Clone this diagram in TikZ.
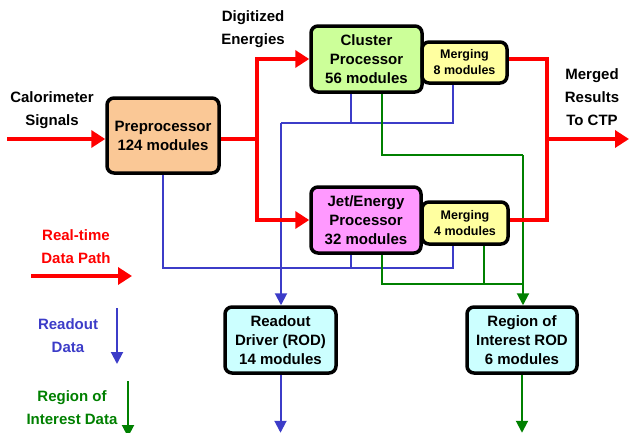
\documentclass[tikz,border=0pt]{standalone}
\usepackage{fontspec}
\setmainfont{Liberation Sans}
\usetikzlibrary{arrows.meta}
\definecolor{rdc}{RGB}{255,0,0}
\definecolor{blc}{RGB}{60,60,200}
\definecolor{grc}{RGB}{0,128,0}
\definecolor{prefill}{RGB}{250,200,150}
\definecolor{clfill}{RGB}{204,255,153}
\definecolor{mfill}{RGB}{255,255,160}
\definecolor{jefill}{RGB}{255,153,255}
\definecolor{rodfill}{RGB}{204,255,255}
\tikzset{
  box/.style={draw=black,line width=3.5pt,rounded corners=7pt,inner sep=0pt,align=center,
    font=\fontsize{15}{19}\selectfont\bfseries},
  mbox/.style={box,fill=mfill,font=\fontsize{12.5}{16}\selectfont\bfseries},
  lbl/.style={align=center,inner sep=0pt,font=\fontsize{15}{23}\selectfont\bfseries},
  rd/.style={draw=rdc,line width=4.5pt,-{Triangle[length=14pt,width=17pt]}},
  rdl/.style={draw=rdc,line width=4.5pt},
  bl/.style={draw=blc,line width=2pt},
  blarr/.style={bl,-{Triangle[length=12pt,width=12pt]}},
  gr/.style={draw=grc,line width=2pt},
  grarr/.style={gr,-{Triangle[length=12pt,width=12pt]}},
}
\begin{document}
\begin{tikzpicture}[x=1pt,y=-1pt]
\useasboundingbox (0,0) rectangle (629,432);
% boxes
\node[box,fill=prefill,minimum width=112pt,minimum height=75pt] (pre) at (163,135.5) {Preprocessor\\124 modules};
\node[box,fill=clfill,minimum width=111pt,minimum height=66pt] (cl) at (366.5,59) {Cluster\\Processor\\56 modules};
\node[mbox,minimum width=85pt,minimum height=41pt] (m8) at (464.5,62.5) {Merging\\8 modules};
\node[box,fill=jefill,minimum width=110pt,minimum height=66pt] (je) at (366,220) {Jet/Energy\\Processor\\32 modules};
\node[mbox,minimum width=86pt,minimum height=42pt] (m4) at (465,223) {Merging\\4 modules};
\node[box,fill=rodfill,minimum width=111pt,minimum height=66pt] (rod) at (280.5,340) {Readout\\Driver (ROD)\\14 modules};
\node[box,fill=rodfill,minimum width=110pt,minimum height=66pt] (roi) at (522,340) {Region of\\Interest ROD\\6 modules};
% labels
\node[lbl] (cal) at (52,110) {Calorimeter\\Signals};
\node[lbl] (dig) at (253,29.5) {Digitized\\Energies};
\node[lbl] (mrg) at (592,97.5) {Merged\\Results\\To CTP};
\node[lbl,text=rdc] (leg1) at (76,246.5) {Real-time\\Data Path};
\node[lbl,text=blc] (leg2) at (68,335.5) {Readout\\Data};
\node[lbl,text=grc] (leg3) at (72,408) {Region of\\Interest Data};
% coordinates
\coordinate (cin) at (7,139);
\coordinate (jr) at (257,139);
\coordinate (jo) at (547,139);
\coordinate (cout) at (629,139);
\coordinate (bt) at (281,123);
\coordinate (bb) at (163,268);
\coordinate (gt) at (523,155);
\coordinate (gb) at (523,284);
\coordinate (l1a) at (31,276);
\coordinate (l1b) at (132,276);
\coordinate (l2a) at (117,308);
\coordinate (l2b) at (117,364);
\coordinate (l3a) at (128,381);
\coordinate (l3b) at (128,437);
% blue readout paths
\draw[bl] ([xshift=-15.5pt]cl.south) |- (bt);
\draw[bl] ([xshift=-11.5pt]m8.south) |- (bt);
\draw[blarr] (bt) -- (bt |- rod.north);
\draw[bl] (pre.south) |- ([xshift=-12pt]m4.south |- bb) -- ([xshift=-12pt]m4.south);
\draw[bl] ([xshift=-15pt]je.south) -- ([xshift=-15pt]je.south |- bb);
\draw[blarr] (rod.south) -- ++(0,58);
% green RoI paths
\draw[gr] ([xshift=15.5pt]cl.south) |- (gt);
\draw[grarr] (gt) -- (gt |- roi.north);
\draw[gr] ([xshift=16pt]je.south) |- (gb);
\draw[gr] ([xshift=19pt]m4.south) -- ([xshift=19pt]m4.south |- gb);
\draw[grarr] (roi.south) -- ++(0,58);
% red real-time paths
\draw[rd] (cin) -- (pre.west |- cin);
\draw[rdl] (pre.east |- jr) -- (jr);
\draw[rdl,line cap=rect] (jr |- cl.west) -- (jr |- je.west);
\draw[rd] (jr |- cl.west) -- (cl.west);
\draw[rd] (jr |- je.west) -- (je.west);
\draw[rdl] (m8.east |- cl.west) -| (jo |- je.east) -- (m4.east |- je.east);
\draw[rd] (jo) -- (cout);
% legend arrows
\draw[rd] (l1a) -- (l1b);
\draw[blarr] (l2a) -- (l2b);
\draw[grarr] (l3a) -- (l3b);
\end{tikzpicture}
\end{document}
